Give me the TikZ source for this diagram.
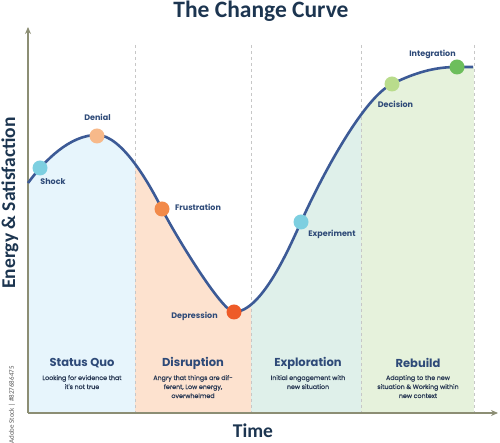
\documentclass[tikz,border=0pt]{standalone}
\usepackage{fontspec}
\setmainfont{Carlito}
\newfontfamily\gothic{Poppins}
\newfontfamily\gothicmed{Poppins}[FakeBold=0.6]
\usetikzlibrary{arrows.meta}
\definecolor{curveblue}{HTML}{3C5A96}
\definecolor{lblue}{HTML}{2E4A78}
\definecolor{dblue}{HTML}{2A3A55}
\definecolor{titleblue}{HTML}{1C3550}
\definecolor{axiscol}{HTML}{8C8E74}
\definecolor{bandsq}{HTML}{E7F5FC}
\definecolor{banddis}{HTML}{FDE2CF}
\definecolor{bandexp}{HTML}{DFF0EA}
\definecolor{bandreb}{HTML}{E6F2DC}
\definecolor{cshock}{HTML}{7DCFE0}
\definecolor{cdenial}{HTML}{F7B98A}
\definecolor{cfrus}{HTML}{F28A4A}
\definecolor{cdep}{HTML}{EE5B28}
\definecolor{cdec}{HTML}{B9DC8C}
\definecolor{cint}{HTML}{6DBE5C}
\tikzset{
  dot/.style={circle,inner sep=0pt,minimum size=15pt,fill=#1},
  plabel/.style={font=\gothic\bfseries\fontsize{8}{9}\selectfont,text=lblue,inner sep=0pt},
  phase/.style={font=\gothic\bfseries\fontsize{11.5}{13}\selectfont,text=lblue,inner sep=0pt},
  desc/.style={font=\gothicmed\fontsize{6.3}{9}\selectfont,text=dblue,align=center,inner sep=0pt,anchor=north},
  divider/.style={draw=black!22,dashed,line width=0.7pt},
  axisline/.style={draw=axiscol,line width=1.6pt,-{Stealth[length=7pt,width=6pt]}}
}
\begin{document}
\begin{tikzpicture}[x=1pt,y=1pt]
\useasboundingbox (0,0) rectangle (500,443);
% bands under the curve
\begin{scope}
\clip (28,30) -- (28,260) .. controls (45,283) and (70,308) .. (97,308)
  .. controls (122,308) and (150,258) .. (162,234)
  .. controls (174,210) and (222,131) .. (234,131)
  .. controls (262,131) and (290,197) .. (301,221)
  .. controls (325,274) and (365,346) .. (392,359)
  .. controls (420,373) and (440,376) .. (457,376) -- (474,376) -- (474,30) -- cycle;
\fill[bandsq] (28,30) rectangle (135,400);
\fill[banddis] (135,30) rectangle (251,400);
\fill[bandexp] (251,30) rectangle (361,400);
\fill[bandreb] (361,30) rectangle (474,400);
\end{scope}
% dividers
\coordinate (d1t) at (135,398); \coordinate (d1b) at (135,30);
\coordinate (d2t) at (251,398); \coordinate (d2b) at (251,30);
\coordinate (d3t) at (361,398); \coordinate (d3b) at (361,30);
\coordinate (d4t) at (474,398); \coordinate (d4b) at (474,30);
\draw[divider] (d1t) -- (d1b);
\draw[divider] (d2t) -- (d2b);
\draw[divider] (d3t) -- (d3b);
\draw[divider] (d4t) -- (d4b);
% axes
\coordinate (origin) at (28,30);
\coordinate (ytip) at (28,416);
\coordinate (xtip) at (498,30);
\draw[axisline] (origin) -- (ytip);
\draw[axisline] (origin) -- (xtip);
% curve
\draw[curveblue,line width=2.6pt] (28,260) .. controls (45,283) and (70,308) .. (97,308)
  .. controls (122,308) and (150,258) .. (162,234)
  .. controls (174,210) and (222,131) .. (234,131)
  .. controls (262,131) and (290,197) .. (301,221)
  .. controls (325,274) and (365,346) .. (392,359)
  .. controls (420,373) and (440,376) .. (457,376) -- (473,376);
% dots
\node[dot=cshock] (shock) at (40,275) {};
\node[dot=cdenial] (denial) at (97,307) {};
\node[dot=cfrus] (frus) at (162,234) {};
\node[dot=cdep] (dep) at (234,131) {};
\node[dot=cshock] (expt) at (301,221) {};
\node[dot=cdec] (dec) at (392,359) {};
\node[dot=cint] (integ) at (457,376) {};
% point labels
\node[plabel] (lshock) at (53,261) {Shock};
\node[plabel] (ldenial) at (97.5,326) {Denial};
\node[plabel] (lfrus) at (198,236) {Frustration};
\node[plabel] (ldep) at (194.5,127) {Depression};
\node[plabel] (lexp) at (332,209) {Experiment};
\node[plabel] (ldec) at (395.5,339) {Decision};
\node[plabel] (lint) at (432.5,389) {Integration};
% phases
\node[phase] (psq) at (82,80) {Status Quo};
\node[phase] (pdis) at (193,80) {Disruption};
\node[phase] (pexp) at (308,80) {Exploration};
\node[phase] (preb) at (418,80) {Rebuild};
\node[desc] (dsq) at (82,68) {Looking for evidence that\\it's not true};
\node[desc] (ddis) at (193,68) {Angry that things are dif-\\ferent, Low energy,\\overwhelmed};
\node[desc] (dexp) at (308,68) {Initial engagement with\\new situation};
\node[desc] (dreb) at (418,68) {Adapting to the new\\situation \& Working within\\new context};
% titles
\node[font=\bfseries\fontsize{23.5}{26}\selectfont,text=titleblue] (title) at (261,432) {The Change Curve};
\node[font=\bfseries\fontsize{19.5}{22}\selectfont,text=titleblue] (xlabel) at (253,12) {Time};
\node[font=\bfseries\fontsize{19.5}{22}\selectfont,text=titleblue,rotate=90] (ylabel) at (10,240) {Energy \& Satisfaction};
\node[font=\fontsize{7}{8}\selectfont,text=black!65,rotate=90] (stock) at (12,38) {Adobe Stock | \#827686475};
\end{tikzpicture}
\end{document}
